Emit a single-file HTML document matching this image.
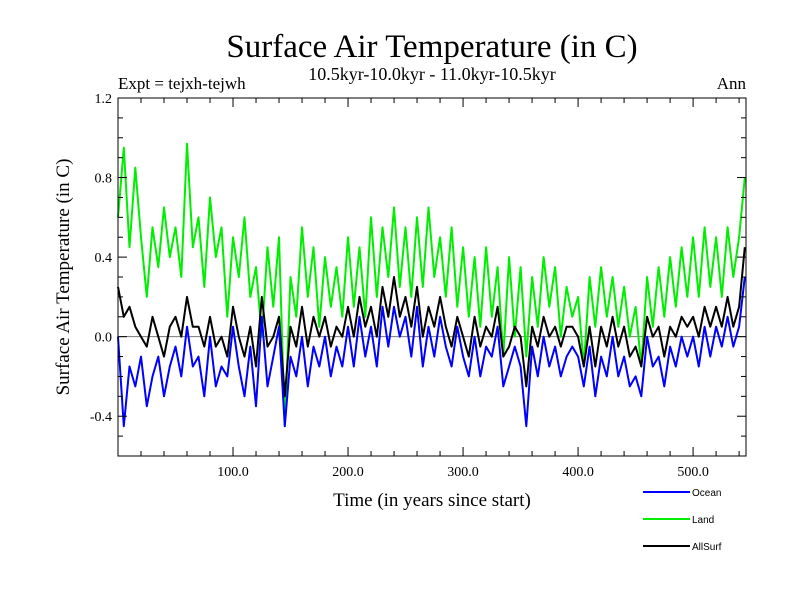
<!DOCTYPE html>
<html><head><meta charset="utf-8"><style>
body{margin:0;background:#fff}
svg text{font-family:"Liberation Serif",serif}
</style></head><body>
<svg id="chart" width="800" height="600" xmlns="http://www.w3.org/2000/svg">
<text x="432" y="57" font-size="33" text-anchor="middle">Surface Air Temperature (in C)</text>
<text x="118" y="89" font-size="17">Expt = tejxh-tejwh</text>
<text x="432" y="80" font-size="18" text-anchor="middle">10.5kyr-10.0kyr - 11.0kyr-10.5kyr</text>
<text x="746" y="89" font-size="17" text-anchor="end">Ann</text>
<text x="0" y="0" font-size="19" text-anchor="middle" transform="translate(69,277) rotate(-90)">Surface Air Temperature (in C)</text>
<text x="432" y="506" font-size="19" text-anchor="middle">Time (in years since start)</text>
<g id="plot"></g>
<g id="legend"></g>
</svg>
<script>
const years=[];for(let i=0;i<110;i++)years.push(i*5);
const land=[0.6,0.95,0.45,0.85,0.5,0.2,0.55,0.35,0.65,0.4,
0.55,0.3,0.97,0.45,0.6,0.25,0.7,0.4,0.55,0.1,
0.5,0.3,0.6,0.2,0.35,0.0,0.45,0.15,0.5,-0.45,
0.3,0.1,0.55,0.2,0.45,0.05,0.4,0.15,0.35,0.1,
0.5,0.15,0.45,0.1,0.6,0.2,0.55,0.3,0.65,0.25,
0.55,0.2,0.6,0.25,0.65,0.3,0.5,0.2,0.55,0.15,
0.45,0.1,0.4,0.05,0.45,0.1,0.35,-0.1,0.4,0.0,
0.35,-0.1,0.3,0.05,0.4,0.15,0.35,0.0,0.25,0.1,
0.2,-0.15,0.3,0.05,0.35,0.1,0.3,0.05,0.25,0.0,
0.15,-0.15,0.3,0.05,0.35,0.1,0.4,0.15,0.45,0.2,
0.5,0.2,0.55,0.25,0.5,0.2,0.55,0.3,0.5,0.8];
const ocean=[0.0,-0.45,-0.15,-0.25,-0.1,-0.35,-0.2,-0.1,-0.3,-0.15,
-0.05,-0.2,0.05,-0.15,-0.1,-0.3,0.0,-0.25,-0.15,-0.2,
0.05,-0.15,-0.3,-0.05,-0.35,0.1,-0.25,-0.1,0.05,-0.45,
-0.1,-0.2,0.0,-0.25,-0.05,-0.15,0.0,-0.2,-0.05,-0.15,
0.05,-0.15,0.1,-0.1,0.05,-0.15,0.15,-0.05,0.15,0.0,
0.1,-0.1,0.15,-0.15,0.05,-0.1,0.1,-0.05,-0.15,0.05,
-0.1,-0.2,0.0,-0.2,-0.05,-0.1,0.05,-0.25,-0.15,-0.05,
-0.15,-0.45,-0.05,-0.2,0.0,-0.15,-0.05,-0.2,-0.1,-0.05,
-0.1,-0.25,-0.05,-0.3,-0.1,-0.2,0.0,-0.2,-0.1,-0.25,
-0.2,-0.3,0.0,-0.15,-0.1,-0.25,-0.05,-0.15,0.0,-0.1,
0.0,-0.15,0.05,-0.1,0.05,-0.05,0.1,-0.05,0.05,0.3];
const allsurf=[0.25,0.1,0.15,0.05,0.0,-0.05,0.1,0.0,-0.1,0.05,
0.1,0.0,0.2,0.05,0.05,-0.05,0.1,-0.05,0.0,-0.1,
0.15,0.0,-0.1,0.05,-0.15,0.2,-0.05,0.0,0.1,-0.3,
0.05,-0.05,0.15,-0.05,0.1,0.0,0.1,-0.05,0.05,0.0,
0.15,0.0,0.2,0.05,0.15,0.0,0.25,0.1,0.3,0.1,
0.2,0.05,0.25,0.0,0.15,0.05,0.2,0.05,-0.05,0.1,
0.0,-0.1,0.1,-0.05,0.05,0.0,0.15,-0.1,-0.05,0.05,
0.0,-0.25,0.05,-0.05,0.1,0.0,0.05,-0.05,0.05,0.05,
0.0,-0.15,0.05,-0.15,0.05,-0.05,0.1,-0.05,0.05,-0.1,
-0.05,-0.15,0.1,0.0,0.05,-0.1,0.05,0.0,0.1,0.05,
0.1,0.0,0.15,0.05,0.15,0.05,0.2,0.05,0.15,0.45];
const xTicks=[100,200,300,400,500];
const xTickLabels=["100.0","200.0","300.0","400.0","500.0"];
const yTicks=[-0.4,0.0,0.4,0.8,1.2];
const yTickLabels=["-0.4","0.0","0.4","0.8","1.2"];

const L=118,R=746,T=98,B=456,X0=0,X1=546,Y0=-0.6,Y1=1.2;
const sx=v=>L+(v-X0)/(X1-X0)*(R-L);
const sy=v=>B-(v-Y0)/(Y1-Y0)*(B-T);
const NS="http://www.w3.org/2000/svg";
const plot=document.getElementById('plot');
function mk(tag,attrs,parent){const e=document.createElementNS(NS,tag);for(const k in attrs)e.setAttribute(k,attrs[k]);parent.appendChild(e);return e;}

const zl=mk('line',{x1:L,x2:R,y1:sy(0),y2:sy(0),stroke:'#777','stroke-width':1},plot);



function series(vals,color,name){
  const d=vals.map((v,i)=>(i?'L':'M')+sx(years[i]).toFixed(1)+','+sy(v).toFixed(1)).join('');
  const p=mk('path',{d:d,fill:'none',stroke:color,'stroke-width':2,'stroke-linejoin':'round'},plot);
  
  
}
series(land,'#00ee00','land-line');
series(allsurf,'#000000','allsurf-line');
series(ocean,'#0000ff','ocean-line');

const fr=mk('rect',{x:L,y:T,width:R-L,height:B-T,fill:'none',stroke:'#000','stroke-width':1},plot);



for(let v=20;v<X1;v+=20){
  const maj=v%100===0,len=maj?9:5;
  mk('line',{x1:sx(v),x2:sx(v),y1:B,y2:B-len,stroke:'#000'},plot);
  mk('line',{x1:sx(v),x2:sx(v),y1:T,y2:T+len,stroke:'#000'},plot);
}
for(let k=-5;k<12;k++){
  const v=k/10,maj=(k%4===0),len=maj?9:5;
  mk('line',{x1:L,x2:L+len,y1:sy(v),y2:sy(v),stroke:'#000'},plot);
  mk('line',{x1:R,x2:R-len,y1:sy(v),y2:sy(v),stroke:'#000'},plot);
}
xTicks.forEach((v,i)=>{
  const t=mk('text',{x:sx(v),y:B+20,'font-size':14,'text-anchor':'middle'},plot);
  t.textContent=xTickLabels[i];
  
  
});
yTicks.forEach((v,i)=>{
  const t=mk('text',{x:L-6,y:sy(v)+5,'font-size':14,'text-anchor':'end'},plot);
  t.textContent=yTickLabels[i];
  
  
});

const lg=document.getElementById('legend');
[['Ocean','#0000ff',492],['Land','#00ee00',519],['AllSurf','#000',546]].forEach(([n,c,y])=>{
  const l=mk('line',{x1:643,x2:690,y1:y,y2:y,stroke:c,'stroke-width':2},lg);
  
  
  const t=mk('text',{x:692,y:y+4,'font-size':10,style:'font-family:"Liberation Sans",sans-serif'},lg);
  t.textContent=n;
  
  
});
</script>
</body></html>
